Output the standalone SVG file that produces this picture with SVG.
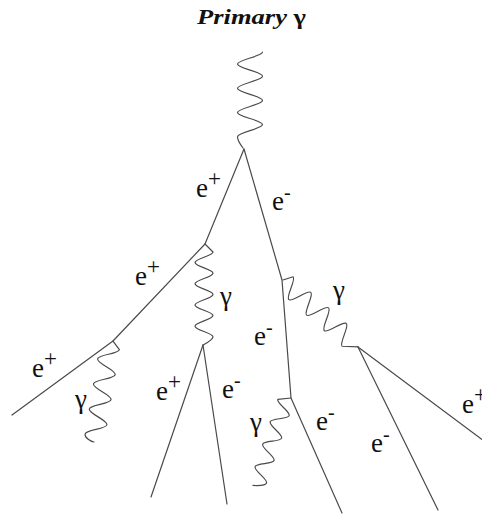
<svg xmlns="http://www.w3.org/2000/svg" width="482" height="514" viewBox="0 0 482 514">
<style>
.trk{fill:none;stroke:#4a4a4a;stroke-width:1.2;stroke-linejoin:round;stroke-linecap:round}
.lbl{font-family:"Liberation Serif","Times New Roman",serif;font-size:27px;fill:#111}
.sp{font-size:23px}
.sm{font-size:20px}
.title{font-family:"Liberation Serif","Times New Roman",serif;font-size:21px;font-weight:bold;font-style:italic;fill:#111}
</style>
<rect width="482" height="514" fill="#fff"/>
<g id="title"><text class="title" x="197" y="24" textLength="109" lengthAdjust="spacingAndGlyphs">Primary <tspan font-style="normal">γ</tspan></text></g>
<g id="connectors">
  <g id="tracks">
    <path class="trk" d="M244,149 L205,244 L113,341 L12,415"/>
    <path class="trk" d="M244,149 L282,280 L291,398 L342,513"/>
    <path class="trk" d="M203,345 L151,497"/>
    <path class="trk" d="M203,345 L227,504"/>
    <path class="trk" d="M358,347 L438,510"/>
    <path class="trk" d="M358,347 L484,441"/>
  </g>
  <g id="photons">
    <path id="ph-primary" class="trk" transform="translate(250,52) rotate(90)" d="M0,-12.5 c4.4,0 7.69,25 12.1,25 s7.69,-25 12.1,-25 s7.69,25 12.1,25 s7.69,-25 12.1,-25 s7.69,25 12.1,25 s7.69,-25 12.1,-25 s7.69,25 12.1,25 c4,0 8,-3 11.3,-5.5"/>
    <path id="ph-2" class="trk" transform="translate(204,252) rotate(90)" d="M-8,-1 L0,-9 c3.86,0 6.74,18 10.6,18 s6.74,-18 10.6,-18 s6.74,18 10.6,18 s6.74,-18 10.6,-18 s6.74,18 10.6,18 s6.74,-18 10.6,-18 s6.74,18 10.6,18 s6.74,-18 10.6,-18 c3,0 6,6 8.2,10"/>
    <path id="ph-3" class="trk" transform="translate(110,345) rotate(99.4)" d="M-4.4,-2.3 L3,-10 c4.62,0 8.07,20 12.7,20 s8.07,-20 12.7,-20 s8.07,20 12.7,20 s8.07,-20 12.7,-20 s8.07,20 12.7,20 s8.07,-20 12.7,-20 s8.07,20 12.7,20 c3.5,0 6.4,-6 6.4,-10"/>
    <path id="ph-4" class="trk" transform="translate(285,283) rotate(41.2)" d="M-3.5,-0.9 L2,-10 c4.3,0 7.5,20 11.8,20 s7.5,-20 11.8,-20 s7.5,20 11.8,20 s7.5,-20 11.8,-20 s7.5,20 11.8,20 s7.5,-20 11.8,-20 s7.5,20 11.8,20 l12.5,-10"/>
    <path id="ph-5" class="trk" transform="translate(286,400) rotate(108.6)" d="M-3.5,-4.1 L2,8 c4.31,0 7.53,-16 11.84,-16 s7.53,16 11.84,16 s7.53,-16 11.84,-16 s7.53,16 11.84,16 s7.53,-16 11.84,-16 s7.53,16 11.84,16 s7.53,-16 11.84,-16 c3,0 5.5,8 6.6,12"/>
  </g>
</g>
<g id="labels">
  <g id="l1"><text class="lbl" x="196" y="197">e<tspan class="sp" dy="-11">+</tspan></text></g>
  <g id="l2"><text class="lbl" x="272" y="210">e<tspan class="sm" dy="-11">-</tspan></text></g>
  <g id="l3"><text class="lbl" x="135" y="285">e<tspan class="sp" dy="-11">+</tspan></text></g>
  <g id="l4"><text class="lbl" x="220" y="305">γ</text></g>
  <g id="l5"><text class="lbl" x="333" y="299">γ</text></g>
  <g id="l6"><text class="lbl" x="254" y="345">e<tspan class="sm" dy="-11">-</tspan></text></g>
  <g id="l7"><text class="lbl" x="32" y="377">e<tspan class="sp" dy="-11">+</tspan></text></g>
  <g id="l8"><text class="lbl" x="75" y="408">γ</text></g>
  <g id="l9"><text class="lbl" x="156" y="400">e<tspan class="sp" dy="-11">+</tspan></text></g>
  <g id="l10"><text class="lbl" x="222" y="398">e<tspan class="sm" dy="-11">-</tspan></text></g>
  <g id="l11"><text class="lbl" x="250" y="431">γ</text></g>
  <g id="l12"><text class="lbl" x="316" y="430">e<tspan class="sm" dy="-11">-</tspan></text></g>
  <g id="l13"><text class="lbl" x="371" y="452">e<tspan class="sm" dy="-11">-</tspan></text></g>
  <g id="l14"><text class="lbl" x="462" y="413">e<tspan class="sp" dy="-11">+</tspan></text></g>
</g>
</svg>
